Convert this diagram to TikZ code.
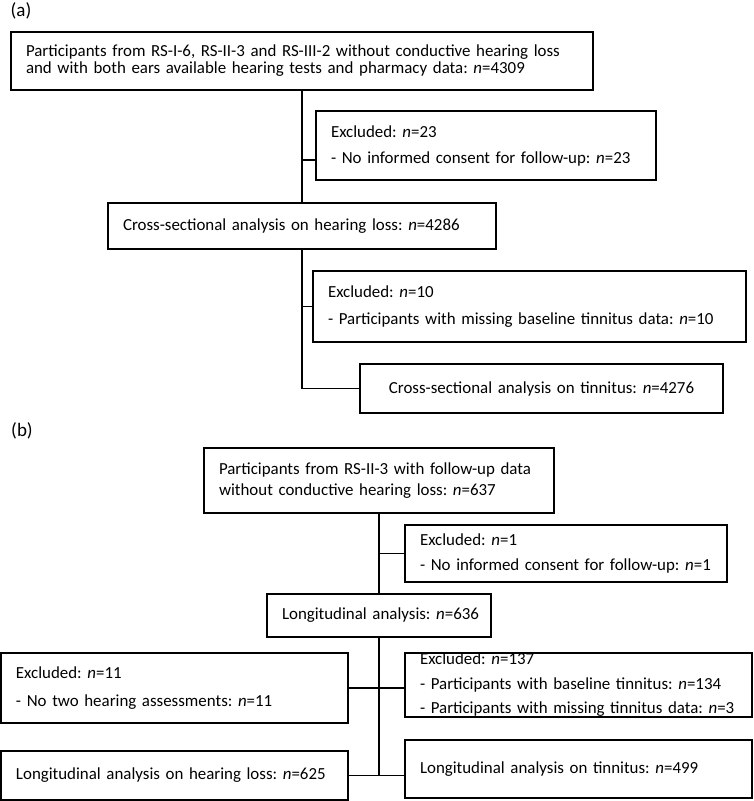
\documentclass[tikz,border=0pt]{standalone}
\usepackage{fontspec}
\setmainfont{Carlito}
\newcommand\bfont{\fontsize{16.9}{21}\selectfont\frenchspacing}
\begin{document}
\begin{tikzpicture}[x=1pt,y=-1pt,
  box/.style={draw, line width=1.25pt, anchor=north west, inner xsep=15pt, inner ysep=0pt, outer sep=0pt, align=left, font=\bfont},
  cbox/.style={box, align=center},
  link/.style={line width=1.2pt},
  lab/.style={font=\fontsize{19}{22}\selectfont, inner sep=0pt}]
\useasboundingbox (0,0) rectangle (753,801);

% ---------- (a) ----------
\node[lab] (la) at (21,11) {(a)};
\node[box, text width=552pt, minimum height=58pt, font=\fontsize{16.9}{17}\selectfont\frenchspacing] (A1) at (11,32)
  {\mbox{Participants from RS-I-6, RS-II-3 and RS-III-2 without conductive hearing loss}\\\mbox{and with both ears available hearing tests and pharmacy data: \textit{n}=4309}};
\node[box, text width=310pt, minimum height=69pt] (E1) at (316,111)
  {\mbox{Excluded: \textit{n}=23}\\[5pt]\mbox{- No informed consent for follow-up: \textit{n}=23}};
\node[box, text width=358pt, minimum height=46pt] (A2) at (108,203)
  {\mbox{Cross-sectional analysis on hearing loss: \textit{n}=4286}};
\node[box, text width=403pt, minimum height=71pt] (E2) at (313,271)
  {\mbox{Excluded: \textit{n}=10}\\[6pt]\mbox{- Participants with missing baseline tinnitus data: \textit{n}=10}};
\node[cbox, text width=333pt, minimum height=49pt] (A3) at (360,364)
  {\mbox{Cross-sectional analysis on tinnitus: \textit{n}=4276}};

\draw[link] (A1.south) -- (A2.north);
\coordinate (j1) at (302,160);
\draw[link] (j1) -- (j1 -| E1.west);
\draw[link] (A2.south) |- (A3.west);
\draw[link] (A2.south |- E2.west) -- (E2.west);

% ---------- (b) ----------
\node[lab] (lb) at (22,431) {(b)};
\node[box, text width=320pt, minimum height=65pt] (B1) at (204,448)
  {\mbox{Participants from RS-II-3 with follow-up data}\\\mbox{without conductive hearing loss: \textit{n}=637}};
\node[box, text width=292pt, minimum height=57pt] (EB1) at (405,525)
  {\mbox{Excluded: \textit{n}=1}\\[4pt]\mbox{- No informed consent for follow-up: \textit{n}=1}};
\node[cbox, text width=194pt, minimum height=43pt] (LB) at (267,594)
  {\mbox{Longitudinal analysis: \textit{n}=636}};
\node[box, text width=317pt, minimum height=70pt] (EB11) at (1,653)
  {\mbox{Excluded: \textit{n}=11}\\[7pt]\mbox{- No two hearing assessments: \textit{n}=11}};
\node[box, text width=317pt, minimum height=64pt] (EB137) at (405,653)
  {\mbox{Excluded: \textit{n}=137}\\[3.5pt]\mbox{- Participants with baseline tinnitus: \textit{n}=134}\\[3.5pt]\mbox{- Participants with missing tinnitus data: \textit{n}=3}};
\node[box, text width=317pt, minimum height=49pt] (LHL) at (1,751)
  {\mbox{Longitudinal analysis on hearing loss: \textit{n}=625}};
\node[box, text width=317pt, minimum height=58pt] (LT) at (405,740)
  {\mbox{Longitudinal analysis on tinnitus: \textit{n}=499}};

\draw[link] (B1.south) -- (LB.north);
\draw[link] (B1.south |- EB1.west) -- (EB1.west);
\draw[link] (LB.south) -- (LB.south |- LHL.east);
\draw[link] (EB11.east) -- (EB11.east -| EB137.west);
\draw[link] (LHL.east) -- (LHL.east -| LT.west);
\end{tikzpicture}
\end{document}
